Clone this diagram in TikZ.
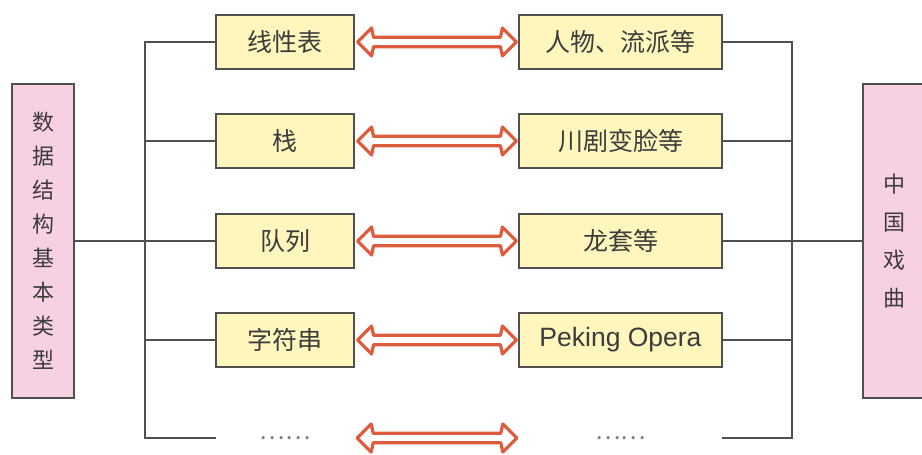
\documentclass[tikz,border=0pt]{standalone}
\usepackage{fontspec}
\setmainfont{Noto Sans CJK SC}
\usetikzlibrary{calc}
\definecolor{boxyel}{RGB}{255,246,190}
\definecolor{boxpink}{RGB}{248,208,228}
\definecolor{edgecol}{RGB}{80,80,80}
\definecolor{arrred}{RGB}{222,92,62}
\definecolor{txtcol}{RGB}{60,60,60}

%% hollow two-headed arrow from east side of #1 to west side of #2
\newcommand{\twoway}[2]{%
  \draw[dbl] let \p1=(#1.east), \p2=(#2.west) in
    (\x1+3pt,\y1) -- (\x1+17pt,\y1+14pt) -- (\x1+19pt,\y1+4.75pt)
    -- (\x2-18pt,\y1+4.75pt) -- (\x2-16pt,\y1+14pt) -- (\x2-2pt,\y1)
    -- (\x2-16pt,\y1-14pt) -- (\x2-18pt,\y1-4.75pt)
    -- (\x1+19pt,\y1-4.75pt) -- (\x1+17pt,\y1-14pt) -- cycle;}

\begin{document}
\begin{tikzpicture}[
  x=1pt, y=-1pt,
  every node/.style={font=\fontsize{25}{27}\selectfont, text=txtcol},
  %% yellow item box  \node[item=138]{...}
  item/.style={
    draw=edgecol, fill=boxyel, line width=1.1pt,
    minimum width=#1pt, minimum height=54pt,
    inner sep=0pt
  },
  item/.default=138,
  %% empty last row
  gap/.style={minimum width=#1pt, minimum height=54pt, inner sep=0pt,
    text=gray, font=\fontsize{24}{26}\selectfont},
  gap/.default=138,
  %% tall pink side box
  side/.style={
    draw=edgecol, fill=boxpink, line width=1.1pt,
    minimum width=62pt, minimum height=314pt,
    align=center, inner sep=0pt
  },
  %% bus lines
  bus/.style={draw=edgecol, line width=1.1pt},
  %% outline of the two-headed arrows
  dbl/.style={draw=arrred, fill=white, line width=3.2pt, line join=round},
]
\useasboundingbox (0,0) rectangle (922,455);

%%── Side boxes ───────────────────────────────────────────────────────────────
\node[side, font=\fontsize{22}{34}\selectfont] (ds) at (43,241)
  {数\\据\\结\\构\\基\\本\\类\\型};
\node[side, font=\fontsize{22}{38}\selectfont] (xq) at (894,241)
  {中\\国\\戏\\曲};

%%── Left column: data structures ─────────────────────────────────────────────
\node[item] (l1) at (285,42)  {线性表};
\node[item] (l2) at (285,141) {栈};
\node[item] (l3) at (285,241) {队列};
\node[item] (l4) at (285,340) {字符串};
\node[gap]  (l5) at (285,438) {……};

%%── Right column: opera ──────────────────────────────────────────────────────
\node[item=203] (r1) at (620.5,42)  {人物、流派等};
\node[item=203] (r2) at (620.5,141) {川剧变脸等};
\node[item=203] (r3) at (620.5,241) {龙套等};
\node[item=203, font=\fontsize{26.5}{28}\selectfont\fontspec{Liberation Sans}] (r4)
  at (620.5,340) {Peking Opera};
\node[gap=203] (r5) at (620.5,438) {……};

%%── Bus coordinates ──────────────────────────────────────────────────────────
\coordinate (lb) at (145,241);
\coordinate (rb) at (792,241);

%%── Left bus ─────────────────────────────────────────────────────────────────
\draw[bus] (ds.east) -- (lb);
\draw[bus] (l1.west) -| (lb |- l5.west) -- (l5.west);
\draw[bus] (l2.west) -- (lb |- l2.west);
\draw[bus] (l3.west) -- (lb);
\draw[bus] (l4.west) -- (lb |- l4.west);

%%── Right bus ────────────────────────────────────────────────────────────────
\draw[bus] (xq.west) -- (rb);
\draw[bus] (r1.east) -| (rb |- r5.east) -- (r5.east);
\draw[bus] (r2.east) -- (rb |- r2.east);
\draw[bus] (r3.east) -- (rb);
\draw[bus] (r4.east) -- (rb |- r4.east);

%%── Two-headed arrows ────────────────────────────────────────────────────────
\twoway{l1}{r1}
\twoway{l2}{r2}
\twoway{l3}{r3}
\twoway{l4}{r4}
\twoway{l5}{r5}

\end{tikzpicture}
\end{document}
